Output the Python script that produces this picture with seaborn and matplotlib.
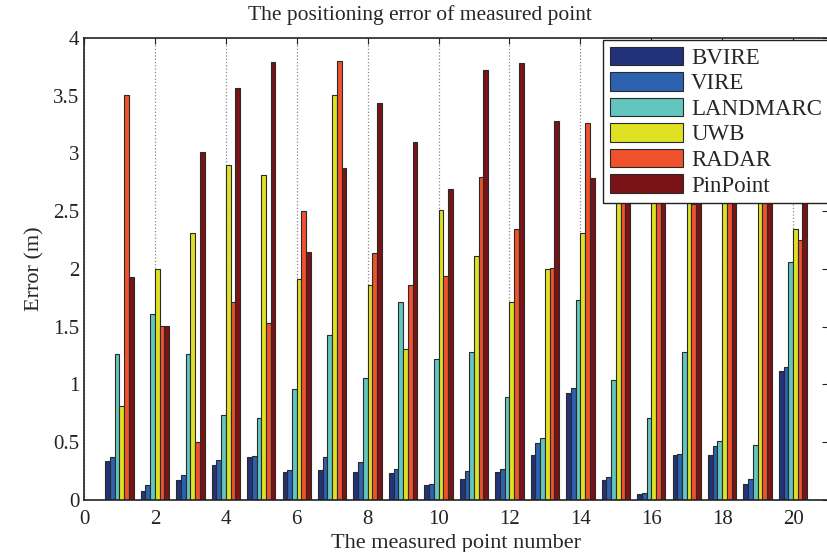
import matplotlib
matplotlib.use("Agg")
import matplotlib.pyplot as plt
import seaborn as sns
import pandas as pd
import numpy as np

points = list(range(1, 21))
methods = ["BVIRE", "VIRE", "LANDMARC", "UWB", "RADAR", "PinPoint"]

bvire    = [0.34, 0.08, 0.17, 0.30, 0.37, 0.24, 0.26, 0.24, 0.23, 0.13, 0.18, 0.24, 0.39, 0.93, 0.17, 0.05, 0.39, 0.39, 0.14, 1.12]
vire     = [0.37, 0.13, 0.22, 0.35, 0.38, 0.26, 0.37, 0.33, 0.27, 0.14, 0.25, 0.27, 0.49, 0.97, 0.20, 0.06, 0.40, 0.47, 0.18, 1.15]
landmarc = [1.26, 1.61, 1.26, 0.74, 0.71, 0.96, 1.43, 1.06, 1.71, 1.22, 1.28, 0.89, 0.54, 1.73, 1.04, 0.71, 1.28, 0.51, 0.48, 2.06]
uwb      = [0.81, 2.00, 2.31, 2.90, 2.81, 1.91, 3.51, 1.86, 1.31, 2.51, 2.11, 1.71, 2.00, 2.31, 3.00, 3.10, 2.90, 3.20, 3.00, 2.35]
radar    = [3.51, 1.51, 0.50, 1.71, 1.53, 2.50, 3.80, 2.14, 1.86, 1.94, 2.80, 2.35, 2.01, 3.26, 2.90, 3.30, 2.56, 3.00, 2.80, 2.25]
pinpoint = [1.93, 1.51, 3.01, 3.57, 3.79, 2.15, 2.87, 3.44, 3.10, 2.69, 3.72, 3.78, 3.28, 2.79, 3.20, 3.50, 3.30, 3.60, 3.40, 3.00]

colors = ["#22337a", "#2c62b0", "#62c6bf", "#dfe122", "#f0522b", "#7a1315"]

series = [bvire, vire, landmarc, uwb, radar, pinpoint]
df = pd.DataFrame({
    "point": np.tile(points, len(methods)),
    "error": np.concatenate(series),
    "method": np.repeat(methods, len(points)),
})

sns.set_style("white")
plt.rcParams["font.family"] = ["Liberation Serif", "DejaVu Serif"]

fig = plt.figure(figsize=(8.27, 5.52), dpi=100)
ax = fig.add_axes([0.1016, 0.0942, 0.9002, 0.837])

sns.barplot(data=df, x="point", y="error", hue="method", hue_order=methods,
            palette=colors, saturation=1, native_scale=True, width=0.8,
            errorbar=None, edgecolor="#2a2a2a", linewidth=0.8, ax=ax, zorder=2)

ax.set_xlim(0, 21)
ax.set_ylim(0, 4)
ax.set_xticks(np.arange(0, 21, 2))
ax.set_xticklabels([str(v) for v in range(0, 21, 2)])
ax.set_yticks(np.arange(0, 4.01, 0.5))
ax.set_yticklabels(["0", "0.5", "1", "1.5", "2", "2.5", "3", "3.5", "4"])
ax.tick_params(direction="in", top=True, right=True, length=4, width=0.8,
               labelsize=15, colors="#222222")
ax.tick_params(axis="x", pad=7)
ax.set_axisbelow(True)
ax.xaxis.grid(True, linestyle=":", color="#888888", linewidth=0.9)
ax.yaxis.grid(False)
for s in ax.spines.values():
    s.set_color("#222222")
    s.set_linewidth(1.2)

ax.set_xlabel("The measured point number", fontsize=16, labelpad=4)
ax.set_ylabel("Error (m)", fontsize=16, labelpad=6)
fig.text(0.508, 0.972, "The positioning error of measured point",
         ha="center", va="center", fontsize=15.5)

handles, labels = ax.get_legend_handles_labels()
if ax.get_legend() is not None:
    ax.get_legend().remove()
leg = fig.legend(handles, labels, loc="upper left",
                 bbox_to_anchor=(603 / 827, 1 - 40 / 552),
                 fontsize=16.5, frameon=True, fancybox=False, framealpha=1,
                 edgecolor="#222222", handlelength=3.2, handleheight=0.85,
                 handletextpad=0.35, labelspacing=0.15, borderpad=0.3,
                 borderaxespad=0)
leg.get_frame().set_linewidth(1.0)

fig.savefig("out.png", dpi=100)
